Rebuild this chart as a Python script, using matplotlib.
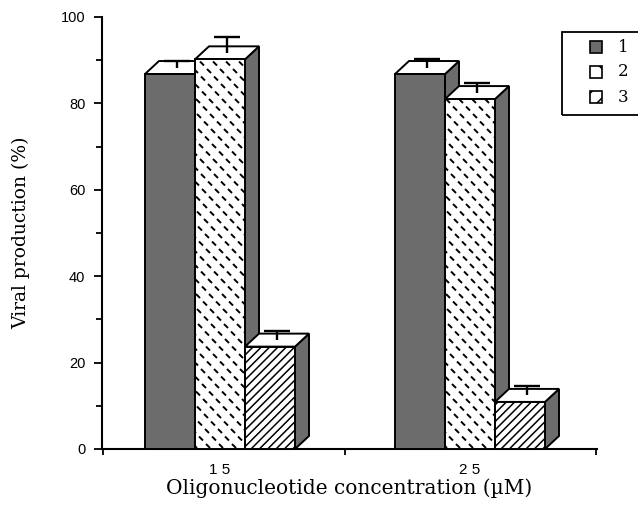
import numpy as np
import matplotlib.pyplot as plt
from matplotlib.patches import Polygon, Rectangle
from matplotlib.collections import LineCollection

plt.rcParams['hatch.linewidth'] = 1.1

# viral production per oligonucleotide, two concentrations
concentrations = ['1 5', '2 5']
series_names = ['1', '2', '3']
production = [[86.8, 90.2, 23.7],
              [86.8, 81.0, 10.9]]
errors = [[1.5, 3.6, 2.2],
          [2.0, 2.2, 2.2]]

W, H = 638, 505
fig = plt.figure(figsize=(W / 100, H / 100), dpi=100)
ax = fig.add_axes([102 / W, 1 - 449 / H, 495 / W, 432 / H])

xmin, xmax = -0.472, 1.508
ax.set_xlim(xmin, xmax)
ax.set_ylim(0, 100)

# data units per pixel, used for the fake-3D depth and the dash fill
sx = (xmax - xmin) / 495.0
sy = 100.0 / 432.0
dx, dy = 14 * sx, 13 * sy
bw = 0.2
lw = 1.4
side_col = '#6c6c6c'


def dash_segments(x0, x1, top, step=13.0, row=7.5, shift=6.0, half=2.0):
    # short "\" marks lined up along "/" diagonals (pixel spacing)
    segs = []
    j = 0
    ypx = 3.0
    while ypx * sy < top + 10 * sy:
        xpx = -step + (shift * j) % step
        while x0 + xpx * sx < x1 + step * sx:
            cx = x0 + xpx * sx
            cy = ypx * sy
            segs.append([(cx - half * sx, cy + half * sy), (cx + half * sx, cy - half * sy)])
            xpx += step
        ypx += row
        j += 1
    return segs


for g, vals in enumerate(production):
    for k, v in enumerate(vals):
        xl = g + (k - 1.5) * bw
        xr = xl + bw
        # side face
        ax.add_patch(Polygon([(xr, 0), (xr + dx, dy), (xr + dx, v + dy), (xr, v)],
                             closed=True, facecolor=side_col, edgecolor='black', lw=lw, zorder=3))
        # top face
        ax.add_patch(Polygon([(xl, v), (xl + dx, v + dy), (xr + dx, v + dy), (xr, v)],
                             closed=True, facecolor='white', edgecolor='black', lw=lw, zorder=3))
        # front face
        if k == 0:
            front = Rectangle((xl, 0), bw, v, facecolor=side_col, edgecolor='none', zorder=3)
            ax.add_patch(front)
        elif k == 1:
            front = Rectangle((xl, 0), bw, v, facecolor='white', edgecolor='none', zorder=3)
            ax.add_patch(front)
            lc = LineCollection(dash_segments(xl, xr, v), colors='black', linewidths=1.4, zorder=3)
            ax.add_collection(lc)
            lc.set_clip_path(front)
        else:
            front = Rectangle((xl, 0), bw, v, facecolor='white', edgecolor='black',
                              hatch='////', lw=0, zorder=3)
            ax.add_patch(front)
        ax.add_patch(Rectangle((xl, 0), bw, v, facecolor='none', edgecolor='black', lw=lw, zorder=4))
        # error bar in the middle of the top face
        ex = (xl + xr) / 2 + dx / 2
        ey = v + dy / 2
        ax.plot([ex, ex], [ey, ey + errors[g][k]], color='black', lw=1.7, zorder=5,
                solid_capstyle='butt')
        ax.plot([ex - 13 * sx, ex + 13 * sx], [ey + errors[g][k]] * 2, color='black', lw=1.7,
                zorder=5, solid_capstyle='butt')

for s in ['top', 'right']:
    ax.spines[s].set_visible(False)
for s in ['left', 'bottom']:
    ax.spines[s].set_linewidth(1.5)

ax.set_yticks(np.arange(0, 101, 20))
ax.set_yticks(np.arange(10, 100, 20), minor=True)
ax.tick_params(axis='y', which='major', direction='out', length=6, width=1.3,
               labelsize=10.5, pad=6)
ax.tick_params(axis='y', which='minor', direction='out', length=4, width=1.3)
for t in ax.get_yticklabels():
    t.set_fontfamily('Liberation Sans')

ax.set_xticks([xmin + 0.003, 0.5, xmax - 0.003])
ax.set_xticklabels([])
ax.tick_params(axis='x', which='major', direction='out', length=4, width=1.3)
ax.set_xticks([0, 1], minor=True)
ax.set_xticklabels(concentrations, minor=True, fontfamily='Liberation Sans', fontsize=11)
ax.tick_params(axis='x', which='minor', length=0, pad=10)

ax.set_xlabel('Oligonucleotide concentration (\u00b5M)', fontfamily='DejaVu Serif',
              fontsize=14.5, labelpad=1)
ax.set_ylabel('Viral production (%)', fontfamily='DejaVu Serif', fontsize=13.5, labelpad=22)

# legend box, drawn in figure pixels
px = lambda x, y: (x / W, 1 - y / H)
fig.patches.append(Rectangle(px(562, 115), 90 / W, 83 / H, transform=fig.transFigure,
                             fill=False, edgecolor='black', lw=1.3))
swatches = [dict(facecolor=side_col), dict(facecolor='white', hatch='\\'),
            dict(facecolor='white', hatch='//')]
for i, (name, sw) in enumerate(zip(series_names, swatches)):
    yc = 47 + 25 * i
    fig.patches.append(Rectangle(px(590, yc + 6), 12 / W, 12 / H, transform=fig.transFigure,
                                 edgecolor='black', lw=1.2, **sw))
    fig.text(*px(618, yc), name, fontfamily='DejaVu Serif', fontsize=12, va='center')

fig.savefig('out.png', dpi=100)
